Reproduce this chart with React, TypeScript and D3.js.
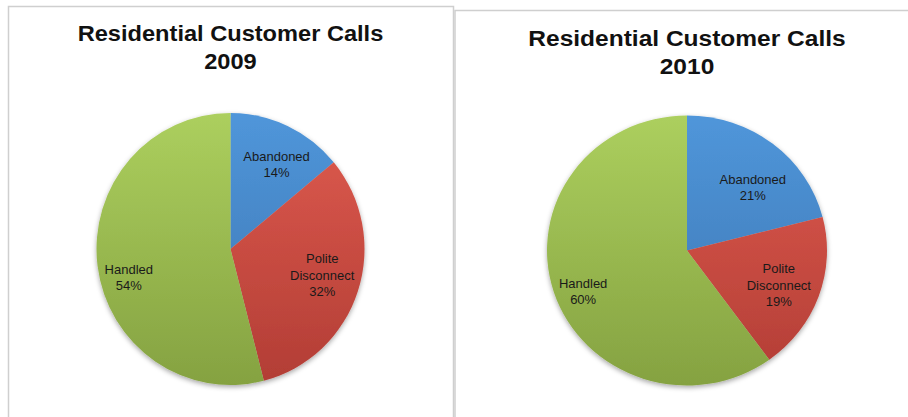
import React from "react";
import * as d3 from "d3";

const categories = ["Abandoned", "Polite Disconnect", "Handled"];
const years = ["2009", "2010"];
const values2009 = [14, 32, 54];
const values2010 = [21, 19, 60];
const labelLines = [["Abandoned"], ["Polite", "Disconnect"], ["Handled"]];

// top / bottom tones of each slice (vertical gradient)
const topColors = ["#5096da", "#df5b4f", "#accf5e"];
const bottomColors = ["#3a74b0", "#b23d35", "#85a241"];

type Slice = { name: string; value: number; idx: number };

const FONT = "Liberation Sans, Arial, sans-serif";

const PiePanel = ({ year, values, id, panel, pie }) => {
	const data: Slice[] = categories.map((c, i) => ({ name: c, value: values[i], idx: i }));
	const r = 100;
	const sx = pie.rx / r;
	const sy = pie.ry / r;
	const lineH = 16.5;

	const layout = d3
		.pie<Slice>()
		.value((d) => d.value)
		.sort(null);

	const arc = d3.arc<d3.PieArcDatum<Slice>>().innerRadius(0).outerRadius(r);
	const labelArc = d3
		.arc<d3.PieArcDatum<Slice>>()
		.innerRadius(r * 0.72)
		.outerRadius(r * 0.72);

	const arcs = layout(data);

	return (
		<g>
			<rect
				x={panel.x}
				y={panel.y}
				width={panel.w}
				height={panel.h}
				fill="#fff"
				stroke="#cfcfcf"
				strokeWidth={1.5}
			/>
			<g transform={`translate(${pie.cx},0) scale(${pie.titleStretch},1)`}>
				<text
					x={0}
					y={pie.titleY}
					textAnchor="middle"
					style={{ fontFamily: FONT, fontWeight: 700, fontSize: "22.5px", fill: "#111" }}>
					<tspan x={0}>Residential Customer Calls</tspan>
					<tspan x={0} dy="28.5">
						{year}
					</tspan>
				</text>
			</g>
			<defs>
				{arcs.map((a) => (
					<linearGradient
						key={a.data.name}
						id={`${id}-g${a.data.idx}`}
						gradientUnits="userSpaceOnUse"
						x1={0}
						y1={-r}
						x2={0}
						y2={r}>
						<stop offset="0%" stopColor={topColors[a.data.idx]} />
						<stop offset="100%" stopColor={bottomColors[a.data.idx]} />
					</linearGradient>
				))}
			</defs>
			<g transform={`translate(${pie.cx},${pie.cy}) scale(${sx},${sy})`} filter="url(#pieShadow)">
				{arcs.map((a) => (
					<path key={a.data.name} d={arc(a) || ""} fill={`url(#${id}-g${a.data.idx})`} />
				))}
			</g>
			<g transform={`translate(${pie.cx},${pie.cy})`}>
				{arcs.map((a) => {
					const [lx, ly] = labelArc.centroid(a);
					const lines = [...labelLines[a.data.idx], `${a.data.value}%`];
					const [nx, ny] = pie.nudge[a.data.idx];
					const px = lx * sx + nx;
					const py = ly * sy + ny - ((lines.length - 1) * lineH) / 2 + 4.5;
					return (
						<text
							key={a.data.name}
							textAnchor="middle"
							style={{ fontFamily: FONT, fontSize: "13px", fill: "#1a1a1a" }}>
							{lines.map((t, k) => (
								<tspan key={k} x={px} y={py + k * lineH}>
									{t}
								</tspan>
							))}
						</text>
					);
				})}
			</g>
		</g>
	);
};

export default function App() {
	return (
		<div style={{ position: "fixed", left: 0, top: 0, background: "#fff" }}>
			<svg width={908} height={417} style={{ display: "block" }}>
				<defs>
					<filter id="pieShadow" x="-10%" y="-10%" width="120%" height="125%">
						<feDropShadow dx="0" dy="1.5" stdDeviation="2" floodColor="#000" floodOpacity="0.35" />
					</filter>
				</defs>
				<rect width={908} height={417} fill="#fff" />
				<PiePanel
					year={years[0]}
					values={values2009}
					id="p2009"
					panel={{ x: 8.5, y: 6.5, w: 445, h: 420 }}
					pie={{
						cx: 230.5,
						cy: 249,
						rx: 134,
						ry: 136,
						titleY: 41,
						titleStretch: 1.05,
						nudge: [
							[5, 4],
							[0, -4],
							[-6, 16],
						],
					}}
				/>
				<PiePanel
					year={years[1]}
					values={values2010}
					id="p2010"
					panel={{ x: 455, y: 10.5, w: 470, h: 420 }}
					pie={{
						cx: 687,
						cy: 250.5,
						rx: 140,
						ry: 135,
						titleY: 46,
						titleStretch: 1.09,
						nudge: [
							[4, 14],
							[-3, 2],
							[-8, 11],
						],
					}}
				/>
			</svg>
		</div>
	);
}
